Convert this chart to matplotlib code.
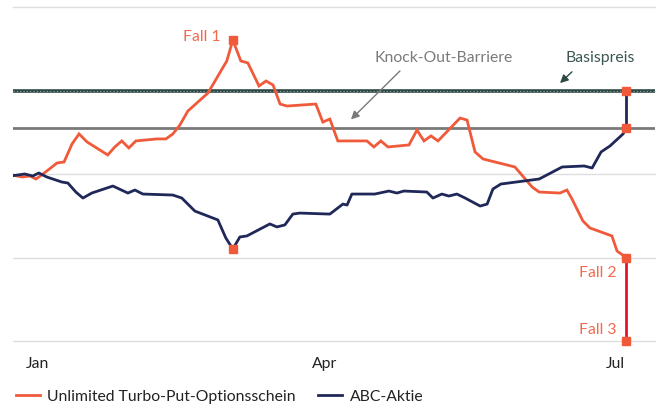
import matplotlib
matplotlib.use("Agg")
import matplotlib.pyplot as plt
from matplotlib.lines import Line2D

# days relative to 1 Jan, values on an arbitrary price scale
put_days = [-7.8, -5.0, -2.5, -0.6, 1.6, 6.0, 8.2, 10.7, 12.9, 15.4, 21.9, 24.1, 26.3, 28.5, 30.7,
            37.3, 40.1, 42.3, 44.5, 47.0, 53.3, 59.2, 61.1, 63.6, 65.8, 69.3, 71.5, 73.7, 75.9, 78.1,
            87.1, 89.3, 91.5, 94.0, 103.1, 105.3, 107.5, 109.7, 116.3, 118.8, 121.0, 123.2, 125.4,
            132.3, 134.5, 137.0, 139.5, 149.5, 154.9, 157.1, 163.6, 165.8, 167.4, 170.8, 173.0,
            179.9, 181.5, 184.3]
put_values = [99.4, 98.2, 98.8, 97.0, 100.0, 106.6, 107.2, 118.0, 124.0, 119.2, 111.4, 116.2, 119.8,
              115.6, 119.8, 121.0, 121.0, 124.0, 129.3, 137.7, 148.5, 167.7, 180.2, 167.7, 166.5,
              152.7, 155.7, 153.3, 141.9, 140.7, 141.9, 131.1, 132.9, 119.8, 119.8, 116.2, 119.8,
              116.2, 117.4, 126.3, 119.8, 122.8, 119.8, 133.5, 132.3, 113.2, 109.0, 104.2, 92.2,
              89.2, 88.6, 90.4, 85.0, 71.9, 67.7, 62.9, 53.9, 50.0]

stock_days = [-7.8, -4.1, -1.6, 0.3, 2.8, 7.5, 9.4, 11.9, 14.1, 16.9, 23.5, 28.2, 30.4, 32.9, 42.3,
              45.1, 49.2, 56.4, 58.9, 61.1, 63.3, 65.5, 72.7, 74.9, 77.4, 79.9, 82.1, 91.5, 95.6,
              96.9, 98.4, 105.6, 110.0, 112.5, 114.7, 121.9, 123.8, 126.6, 128.8, 131.3, 133.9,
              138.6, 140.8, 142.6, 145.1, 157.1, 164.3, 171.2, 173.7, 176.5, 179.3, 183.4, 184.3]
stock_values = [99.0, 100.0, 98.8, 100.6, 98.2, 95.2, 94.6, 89.2, 85.6, 88.6, 92.8, 88.6, 90.4, 88.0,
                87.4, 85.6, 77.8, 72.5, 61.7, 55.1, 62.3, 62.9, 70.1, 68.3, 69.5, 76.0, 76.6, 76.0,
                82.0, 81.4, 88.0, 88.0, 89.8, 88.6, 89.8, 89.2, 85.6, 88.0, 86.8, 88.0, 85.6, 80.8,
                82.0, 91.0, 94.0, 97.0, 104.2, 104.8, 103.6, 113.2, 116.8, 124.0, 127.5]

basispreis = 150.0
barrier = 127.5
fall3_value = 0.0

tick_days = [0, 90, 181]
tick_labels = ["Jan", "Apr", "Jul"]
grid_values = [0, 50, 100, 150, 200]

ORANGE = "#f05a3a"
LABEL_ORANGE = "#f26a4d"
NAVY = "#1f2858"
RED = "#e8122d"
TEAL = "#2f4a46"
GREY = "#7a7a7a"
FS = 11.3

plt.rcParams["font.family"] = ["Lato", "DejaVu Sans"]

fig = plt.figure(figsize=(6.6, 4.06), dpi=100)
ax = fig.add_axes([13 / 660, 64 / 406, 642 / 660, 334 / 406])
ax.set_xlim(-7.8, 193.4)
ax.set_ylim(0, 200)

for v in grid_values:
    ax.axhline(v, color="#dedede", lw=1, zorder=0, clip_on=False)

ax.axhline(barrier, color=GREY, lw=2, zorder=1)
ax.axhline(basispreis, color=TEAL, lw=2.6, zorder=1)
ax.axhline(basispreis, color="#8fa39f", lw=0.8, ls=(0, (1, 2)), zorder=1)

ax.plot(put_days, put_values, color=ORANGE, lw=2, zorder=3, solid_joinstyle="miter")
ax.plot(stock_days, stock_values, color=NAVY, lw=2, zorder=3)

end_day = put_days[-1]
ax.plot([end_day, end_day], [stock_values[-1], basispreis], color=NAVY, lw=2, zorder=3)
ax.plot([end_day, end_day], [put_values[-1], fall3_value], color=RED, lw=2, zorder=3, clip_on=False)

peak = put_values.index(max(put_values))
trough = stock_values.index(min(stock_values))
marker_x = [put_days[peak], stock_days[trough], end_day, end_day, end_day, end_day]
marker_y = [put_values[peak], stock_values[trough], basispreis, stock_values[-1], put_values[-1], fall3_value]
ax.plot(marker_x, marker_y, ls="none", marker="s", ms=6, color=ORANGE, zorder=5, clip_on=False)

ax.annotate("Fall 1", (put_days[peak], put_values[peak]), xytext=(-9, 3), textcoords="offset points",
            ha="right", va="center", color=LABEL_ORANGE, fontsize=FS)
ax.annotate("Fall 2", (end_day, put_values[-1]), xytext=(-7, -10.5), textcoords="offset points",
            ha="right", va="center", color=LABEL_ORANGE, fontsize=FS)
ax.annotate("Fall 3", (end_day, fall3_value), xytext=(-7, 8.5), textcoords="offset points",
            ha="right", va="center", color=LABEL_ORANGE, fontsize=FS)

ax.annotate("", xy=(97.5, 131.5), xytext=(114.1, 162.9),
            arrowprops=dict(arrowstyle="-|>", color=GREY, lw=1, mutation_scale=12))
ax.text(127, 170, "Knock-Out-Barriere", ha="center", va="center", color=GREY, fontsize=FS)
ax.annotate("", xy=(163.0, 153.3), xytext=(168.0, 162.3),
            arrowprops=dict(arrowstyle="-|>", color=TEAL, lw=1, mutation_scale=12))
ax.text(176.2, 170, "Basispreis", ha="center", va="center", color="#3b5753", fontsize=FS)

ax.set_xticks(tick_days)
ax.set_xticklabels(tick_labels, fontsize=FS, color="#222222")
ax.tick_params(axis="x", length=0, pad=11)
ax.set_yticks([])
for side in ax.spines.values():
    side.set_visible(False)

handles = [Line2D([], [], color=ORANGE, lw=2), Line2D([], [], color=NAVY, lw=2)]
fig.legend(handles, ["Unlimited Turbo-Put-Optionsschein", "ABC-Aktie"], loc="lower left",
           bbox_to_anchor=(0.003, -0.03), ncol=2, frameon=False, fontsize=FS,
           handlelength=1.5, handletextpad=0.5, columnspacing=1.4, labelcolor="#222222")

fig.savefig("out.png", dpi=100)
